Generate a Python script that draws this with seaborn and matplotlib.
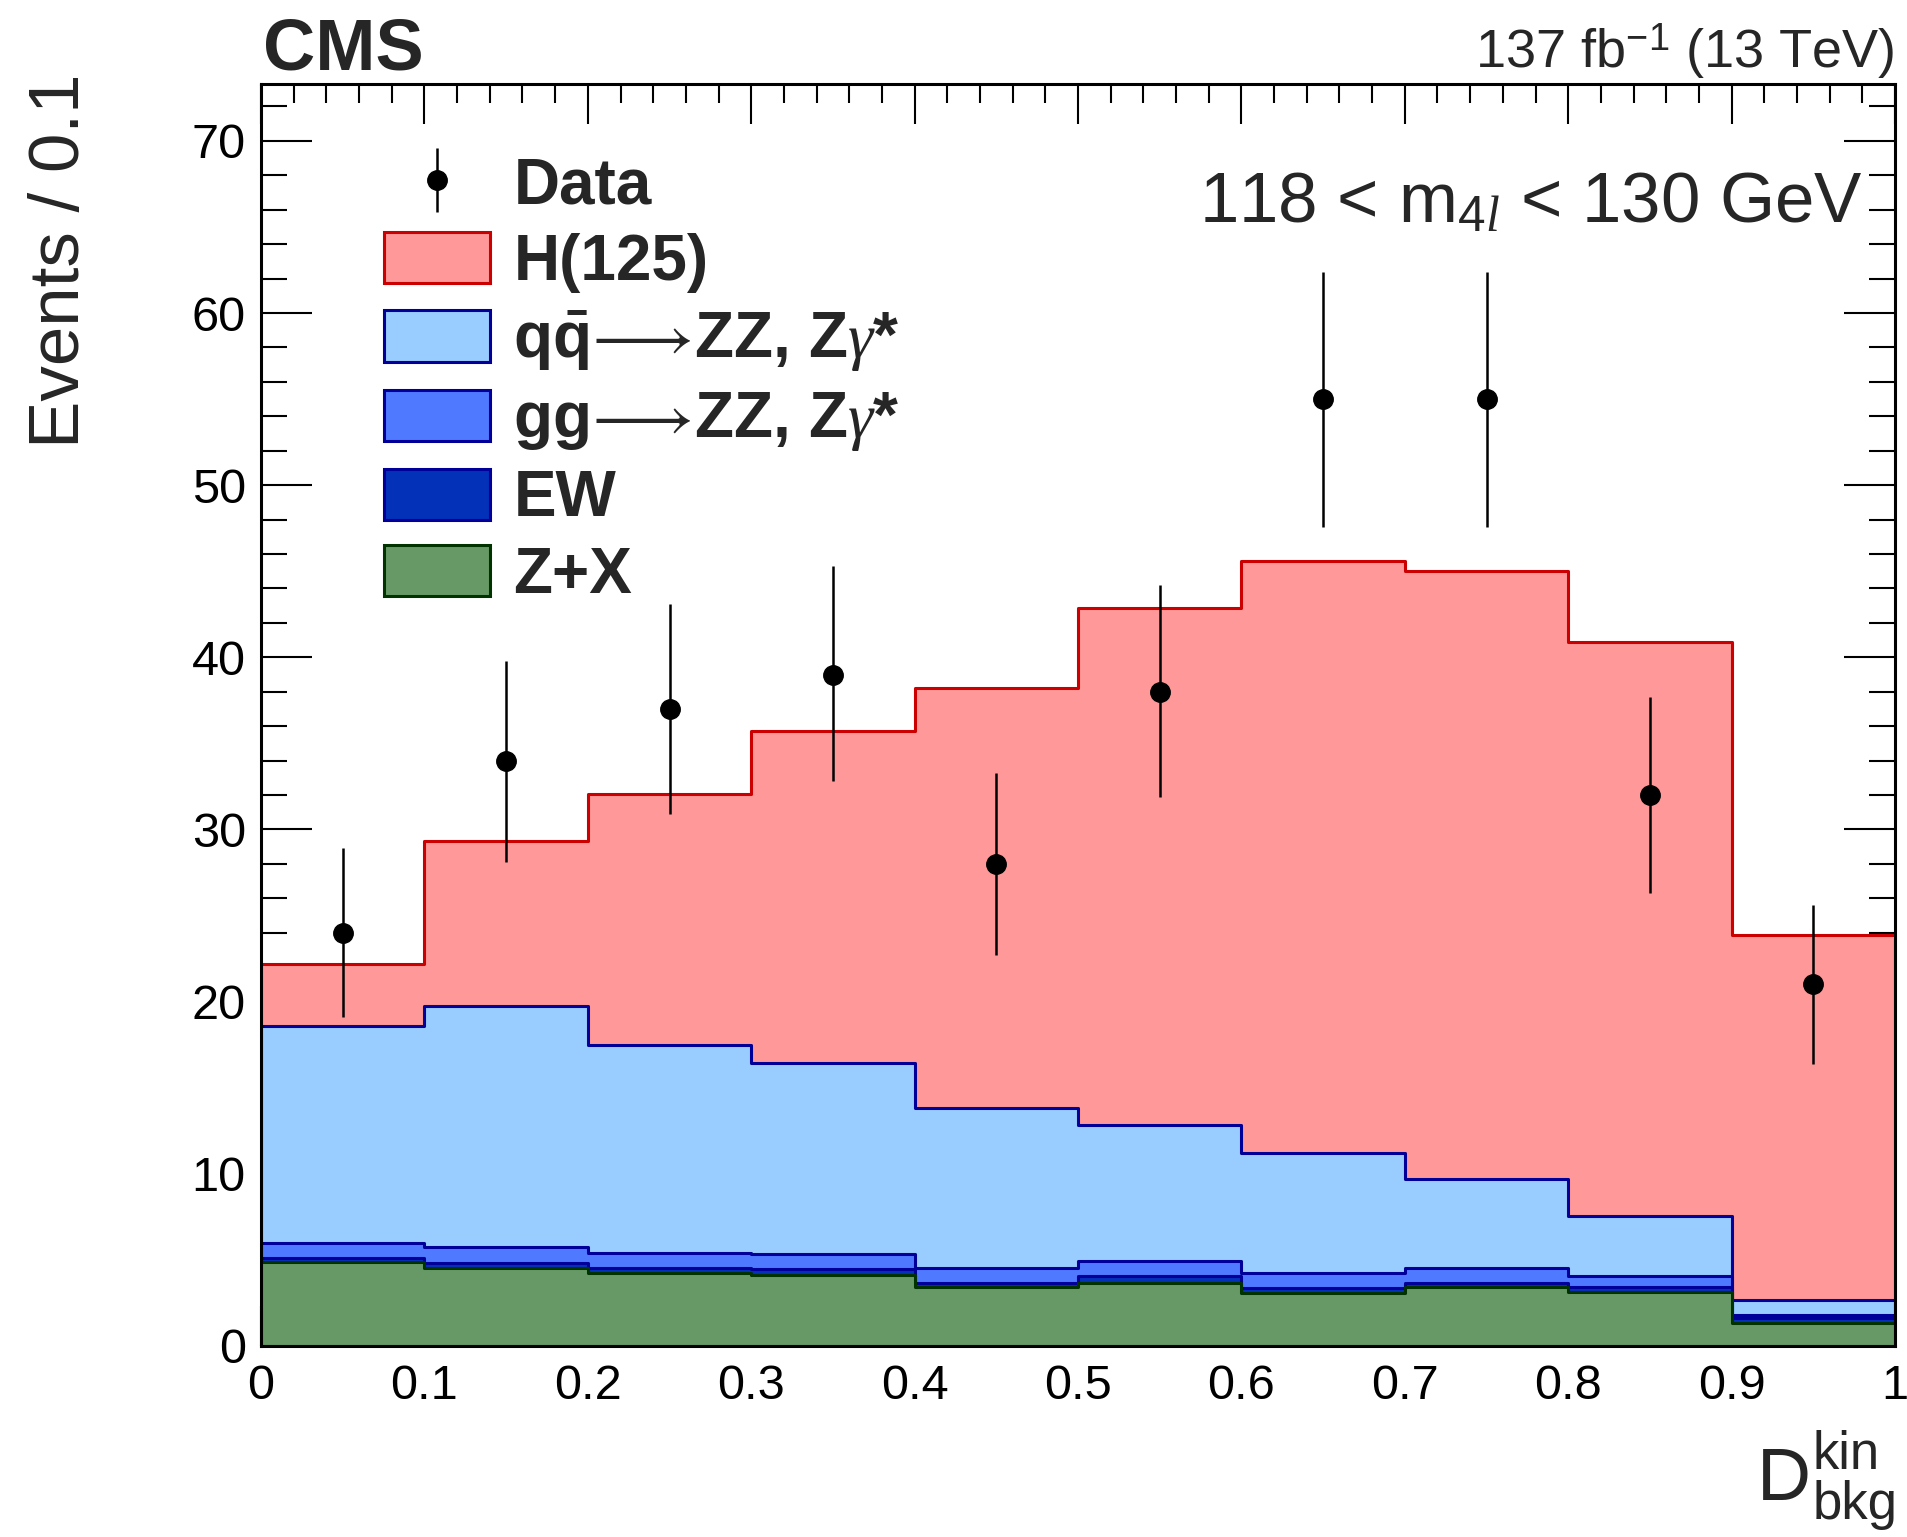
import numpy as np
import matplotlib
matplotlib.use("Agg")
import matplotlib.pyplot as plt
import seaborn as sns
from matplotlib.patches import Patch
from matplotlib.ticker import MultipleLocator

# ビン (D_bkg^kin)
bin_edges = [0.0, 0.1, 0.2, 0.3, 0.4, 0.5, 0.6, 0.7, 0.8, 0.9, 1.0]
bin_centers = [0.05, 0.15, 0.25, 0.35, 0.45, 0.55, 0.65, 0.75, 0.85, 0.95]
tick_labels = ["0", "0.1", "0.2", "0.3", "0.4", "0.5", "0.6", "0.7", "0.8", "0.9", "1"]

# データ点
data_counts = [24, 34, 37, 39, 28, 38, 55, 55, 32, 21]
data_err_up = [4.9, 5.8, 6.1, 6.3, 5.3, 6.2, 7.4, 7.4, 5.7, 4.6]
data_err_down = [4.9, 5.9, 6.1, 6.2, 5.3, 6.1, 7.4, 7.4, 5.7, 4.6]

# 各プロセスの寄与 (下から積み上げ)
zx_yield = [4.85, 4.53, 4.22, 4.12, 3.40, 3.68, 3.09, 3.40, 3.15, 1.34]
ew_yield = [0.25, 0.27, 0.29, 0.34, 0.24, 0.39, 0.26, 0.24, 0.25, 0.26]
gg_yield = [0.90, 0.92, 0.88, 0.87, 0.89, 0.87, 0.87, 0.87, 0.67, 0.19]
qq_yield = [12.6, 14.0, 12.1, 11.1, 9.3, 7.9, 7.0, 5.2, 3.5, 0.9]
h_yield = [3.6, 9.6, 14.6, 19.3, 24.4, 30.0, 34.4, 35.3, 33.3, 21.2]

labels = ["Z+X", "EW",
          r"gg$\!{\longrightarrow}\!$ZZ, Z$\gamma$*",
          r"q$\mathbf{\bar{q}}\!{\longrightarrow}\!$ZZ, Z$\gamma$*",
          "H(125)"]
fills = ["#669966", "#0331b8", "#4f79ff", "#99ccff", "#ff9999"]
edges_c = ["#003300", "#000099", "#000099", "#000099", "#cc0000"]

sns.set_style("ticks")
plt.rcParams['font.family'] = ['Liberation Sans', 'DejaVu Sans']
plt.rcParams['mathtext.fontset'] = 'custom'
plt.rcParams['mathtext.rm'] = 'Liberation Sans'
plt.rcParams['mathtext.bf'] = 'Liberation Sans:bold'
plt.rcParams['mathtext.it'] = 'Liberation Serif:italic'

fig = plt.figure(figsize=(19.07, 15.37), dpi=100)
ax = fig.add_axes([0.1369, 0.1243, 0.8568, 0.8210])

# 積み上げヒストグラム (上の層から順に描く)
yields = [zx_yield, ew_yield, gg_yield, qq_yield, h_yield]
cum = np.cumsum(np.array(yields), axis=0)
for i in range(len(yields) - 1, -1, -1):
    sns.histplot(x=bin_centers, weights=cum[i], bins=bin_edges, element="step",
                 fill=True, color=fills[i], edgecolor=edges_c[i], linewidth=2.2,
                 alpha=1, ax=ax)

# データ
eb = ax.errorbar(bin_centers, data_counts, yerr=[data_err_down, data_err_up],
                 fmt='o', color='black', markersize=14, elinewidth=1.8, capsize=0,
                 zorder=5)

ax.set_xlim(0, 1)
ax.set_ylim(0, 73.3)
ax.set_xlabel("")
ax.set_ylabel("")
ax.set_xticks(bin_edges)
ax.set_xticklabels(tick_labels)
ax.xaxis.set_minor_locator(MultipleLocator(0.02))
ax.yaxis.set_major_locator(MultipleLocator(10))
ax.yaxis.set_minor_locator(MultipleLocator(2))
ax.tick_params(axis='both', which='both', direction='in', top=True, right=True,
               width=1.5, labelsize=35, colors='black')
ax.tick_params(axis='x', which='major', length=29, pad=13)
ax.tick_params(axis='x', which='minor', length=14)
ax.tick_params(axis='y', which='major', length=37, pad=11)
ax.tick_params(axis='y', which='minor', length=19)
for s in ax.spines.values():
    s.set_linewidth(2.2)
    s.set_color('black')
    s.set_visible(True)

# 凡例
handles = [eb]
for i in range(len(yields) - 1, -1, -1):
    handles.append(Patch(facecolor=fills[i], edgecolor=edges_c[i], linewidth=2.2))
leg_labels = ["Data"] + labels[::-1]
ax.legend(handles, leg_labels, loc='upper left', bbox_to_anchor=(0.075, 0.943),
          frameon=False, prop={'size': 46, 'weight': 'bold'},
          handlelength=1.67, handleheight=0.86, handletextpad=0.36,
          labelspacing=0.24, borderpad=0, borderaxespad=0)

# テキスト
fig.text(263 / 1907, 1 - 70 / 1537, "CMS", fontsize=52, fontweight='bold',
         ha='left', va='baseline')
fig.text(1895 / 1907, 1 - 68 / 1537, r"137 fb$^{-1}$ (13 TeV)", fontsize=39,
         ha='right', va='baseline')
fig.text(1863 / 1907, 1 - 222 / 1537, r"118 < m$_{4\mathit{l}}$ < 130 GeV",
         fontsize=51, ha='right', va='baseline')
fig.text(61 / 1907, 1 - 73 / 1537, "Events / 0.1", fontsize=51, rotation=90,
         ha='center', va='top')

# x軸ラベル D_bkg^kin
fig.text(1811 / 1907, 1 - 1500 / 1537, "D", fontsize=54, ha='right', va='baseline')
fig.text(1813 / 1907, 1 - 1469 / 1537, "kin", fontsize=38, ha='left', va='baseline')
fig.text(1813 / 1907, 1 - 1519 / 1537, "bkg", fontsize=38, ha='left', va='baseline')

fig.savefig("out.png", dpi=100)
plt.close(fig)
